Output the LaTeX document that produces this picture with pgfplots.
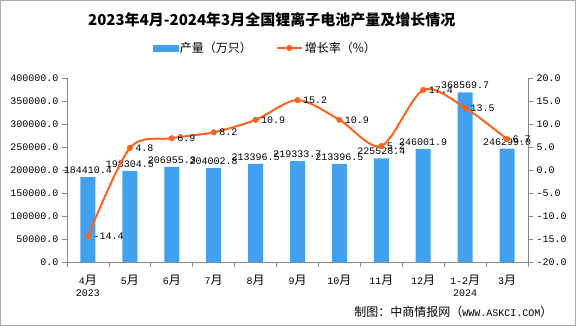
\documentclass[border=0pt]{standalone}
\usepackage{pgfplots}
\pgfplotsset{compat=1.18}
\usepackage{fontspec}
\setmainfont{Liberation Mono}
\newfontfamily\cjk[Scale=1.2]{Noto Sans CJK SC}
\newfontfamily\cjkt{Noto Sans CJK SC}
\definecolor{barblue}{RGB}{66,160,240}
\definecolor{lineorange}{RGB}{252,100,30}
\definecolor{axgray}{RGB}{137,137,137}
\pgfkeys{/pgf/number format/.cd, fixed, fixed zerofill, precision=1, 1000 sep={}, assume math mode=true}
\pgfplotsset{mylineleg/.style={legend image code/.code={\draw[mark repeat=2,mark phase=2,##1] plot coordinates {(0pt,0pt) (12.5pt,0pt) (25pt,0pt)};}}}
\begin{document}
\begin{tikzpicture}[x=1pt,y=1pt,font=\fontsize{10}{12}\selectfont]
\path[use as bounding box] (0,0) rectangle (576,326);
\draw[axgray!70, line width=1pt] (0.5,0.5) rectangle (575.5,325.5);
\node[font=\fontsize{15}{18}\cjkt\bfseries, anchor=west, inner sep=0pt] at (88,306) {2023年4月-2024年3月全国锂离子电池产量及增长情况};
\node[anchor=east] at (556,14) {{\cjk 制图：中商情报网（}WWW.ASKCI.COM{\cjk ）}};

\begin{axis}[at={(67pt,64pt)}, anchor=south west, scale only axis,
  width=461pt, height=184pt,
  xmin=-0.5, xmax=10.5, ymin=0, ymax=400000,
  axis y line*=left, axis x line*=bottom,
  axis line style={-, axgray, line width=0.8pt},
  ytick={0,50000,...,400000}, scaled y ticks=false,
  xtick={0,...,10},
  xticklabels={{4{\cjk 月}\\2023},{5{\cjk 月}},{6{\cjk 月}},{7{\cjk 月}},{8{\cjk 月}},{9{\cjk 月}},{10{\cjk 月}},{11{\cjk 月}},{12{\cjk 月}},{1-2{\cjk 月}\\2024},{3{\cjk 月}}},
  xticklabel style={align=center, anchor=north, yshift=-5pt},
  minor xtick={-0.5,0.5,...,10.5},
  major x tick style={draw=none},
  tick align=outside, major tick length=5pt, minor tick length=5pt,
  tick style={axgray, line width=0.8pt},
  ybar, bar width=15pt,
  nodes near coords,
  every node near coord/.append style={text=black},
  clip=false]
\addplot[fill=barblue, draw=none] coordinates {
(0,184410.4) (1,198304.5) (2,206955.3) (3,204002.8) (4,213396.5) (5,219333.7)
(6,213396.5) (7,225528.4) (8,246001.9) (9,368569.7) (10,246299.0)};
\end{axis}

\begin{axis}[at={(67pt,64pt)}, anchor=south west, scale only axis,
  width=461pt, height=184pt,
  xmin=-0.5, xmax=10.5, ymin=-20, ymax=20,
  axis y line*=right, axis x line=none,
  axis line style={-, axgray, line width=0.8pt},
  ytick={-20,-15,...,20},
  tick align=outside, major tick length=5pt,
  tick style={axgray, line width=0.8pt},
  clip=false,
  legend style={at={(rel axis cs:0.43,1.163)}, anchor=center, draw=none, fill=none,
    legend columns=2, /tikz/every even column/.append style={column sep=22pt}},
  legend cell align=left]
\addlegendimage{legend image code/.code={\fill[barblue] (0pt,-3pt) rectangle (25pt,3pt);}}
\addlegendentry{{\cjk 产量（万只）}}
\addplot[lineorange, line width=2pt, smooth, mark=*, mark size=2.8pt,
  mark options={fill=lineorange, draw=lineorange, line width=0.5pt},
  mylineleg,
  nodes near coords,
  every node near coord/.append style={text=black, anchor=west, xshift=2pt}]
coordinates {(0,-14.4) (1,4.8) (2,6.9) (3,8.2) (4,10.9) (5,15.2) (6,10.9) (7,5.2) (8,17.4) (9,13.5) (10,6.7)};
\addlegendentry{{\cjk 增长率（\%）}}
\end{axis}
\end{tikzpicture}
\end{document}
